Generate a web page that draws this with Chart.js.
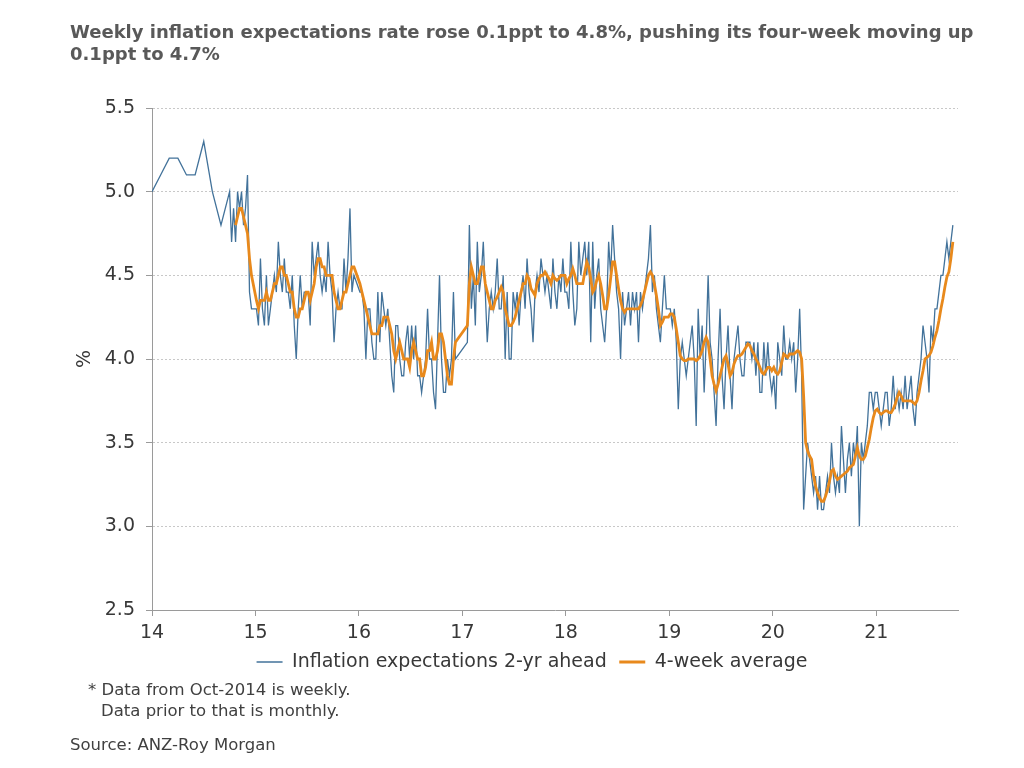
<!DOCTYPE html>
<html>
<head>
<meta charset="utf-8">
<script src="https://cdn.jsdelivr.net/npm/chart.js@4.4.1/dist/chart.umd.min.js"></script>
<style>
  body { margin: 0; background: #fff; width: 1024px; height: 768px; overflow: hidden; position: relative; font-family: "DejaVu Sans", sans-serif; }
  #wrap { position: absolute; left: 0; top: 0; width: 1024px; height: 690px; }
  .note { position: absolute; color: #404040; font-size: 16.5px; line-height: 21px; white-space: nowrap; }
</style>
</head>
<body>
<div id="wrap"><canvas id="chart" width="1024" height="690"></canvas></div>
<div class="note" style="left:88px; top:679px;">* Data from Oct-2014 is weekly.</div>
<div class="note" style="left:101px; top:700px;">Data prior to that is monthly.</div>
<div class="note" style="left:70px; top:734px;">Source: ANZ-Roy Morgan</div>
<script>
// Monthly survey, Jan-Sep 2014
const monthly2014 = [5.0, 5.1, 5.2, 5.2, 5.1, 5.1, 5.3, 5.0, 4.8];

// Weekly survey (Oct-2014 onwards), null = holiday break
const weekly2014 = [5.0, 4.7, 4.9, 4.7, 5.0, 4.9, 5.0, 4.8, 4.9, 5.1, 4.4, 4.3, null];
const weekly2015 = [4.3, 4.2, 4.6, 4.3, 4.2, 4.5, 4.2, 4.3, 4.4, 4.5,
  4.4, 4.7, 4.5, 4.4, 4.6, 4.4, 4.4, 4.3, 4.5, 4.2,
  4.0, 4.3, 4.5, 4.3, 4.4, 4.4, 4.4, 4.2, 4.7, 4.5,
  4.6, 4.7, 4.5, 4.4, 4.5, 4.4, 4.7, 4.5, 4.4, 4.1,
  4.3, 4.4, 4.3, 4.3, 4.6, 4.4, 4.6, 4.9, 4.4, 4.5,
  null, null];
const weekly2016 = [4.4, 4.4, 4.3, 4.0, 4.3, 4.3, 4.1, 4.0, 4.0, 4.4,
  4.1, 4.4, 4.3, 4.2, 4.3, 4.1, 3.9, 3.8, 4.2, 4.2,
  4.0, 3.9, 3.9, 4.1, 4.2, 4.0, 4.2, 4.0, 4.2, 3.9,
  3.9, 3.8, 3.9, 4.0, 4.3, 4.0, 4.0, 3.8, 3.7, 4.1,
  4.5, 4.0, 3.8, 3.8, 4.0, 3.9, 4.0, 4.4, 4.0, null,
  null, null];
const weekly2017 = [null, null, 4.1, 4.8, 4.3, 4.5, 4.2, 4.7, 4.4, 4.5,
  4.7, 4.4, 4.1, 4.3, 4.4, 4.3, 4.4, 4.6, 4.3, 4.3,
  4.5, 4.0, 4.4, 4.0, 4.0, 4.4, 4.3, 4.4, 4.2, 4.4,
  4.5, 4.3, 4.6, 4.4, 4.3, 4.1, 4.4, 4.5, 4.4, 4.6,
  4.5, 4.4, 4.5, 4.4, 4.3, 4.6, 4.4, 4.3, 4.5, 4.4,
  4.6, 4.4];
const weekly2018 = [4.4, 4.3, 4.7, 4.4, 4.2, 4.3, 4.7, 4.5, 4.6, 4.7,
  4.5, 4.7, 4.1, 4.7, 4.3, 4.5, 4.6, 4.3, 4.2, 4.1,
  4.3, 4.7, 4.5, 4.8, 4.6, 4.4, 4.3, 4.0, 4.4, 4.2,
  4.3, 4.4, 4.2, 4.4, 4.3, 4.4, 4.1, 4.4, 4.3, 4.4,
  4.5, 4.6, 4.8, 4.4, 4.5, 4.3, 4.2, 4.1, 4.3, 4.5,
  4.3, 4.3];
const weekly2019 = [4.3, 4.2, 4.3, 4.1, 3.7, 4.0, 4.1, 4.0, 3.9, 4.0,
  4.1, 4.2, 4.0, 3.6, 4.3, 4.0, 4.2, 3.8, 4.1, 4.5,
  4.1, 4.0, 3.8, 3.6, 4.0, 4.3, 3.9, 3.7, 4.0, 4.2,
  3.9, 3.7, 4.0, 4.1, 4.2, 4.0, 3.9, 3.9, 4.1, 4.1,
  4.1, 4.0, 4.1, 3.9, 4.1, 3.8, 3.8, 4.1, 3.9, 4.1,
  3.9, 3.8];
const weekly2020 = [3.9, 3.7, 4.1, 4.0, 3.9, 4.2, 4.0, 4.0, 4.1, 4.0,
  4.1, 3.8, 4.0, 4.3, 3.9, 3.1, 3.3, 3.5, 3.4, 3.3,
  3.2, 3.3, 3.1, 3.3, 3.1, 3.1, 3.2, 3.3, 3.2, 3.5,
  3.3, 3.2, 3.3, 3.2, 3.6, 3.4, 3.2, 3.4, 3.5, 3.3,
  3.5, 3.4, 3.6, 3.0, 3.5, 3.4, 3.5, 3.6, 3.8, 3.8,
  3.7, 3.8];
const weekly2021 = [3.8, 3.7, 3.6, 3.7, 3.8, 3.8, 3.6, 3.7, 3.9, 3.7,
  3.8, 3.7, 3.8, 3.7, 3.9, 3.7, 3.8, 3.9, 3.7, 3.6,
  3.8, 3.9, 4.0, 4.2, 4.1, 4.0, 3.8, 4.2, 4.1, 4.3,
  4.3, 4.4, 4.5, 4.5, 4.6, 4.7, 4.6, 4.7, 4.8];

// 4-week average
const avg2014 = [null, null, null, 4.8, 4.85, 4.9, 4.9, 4.85, 4.8, 4.75, 4.6, 4.5, null];
const avg2015 = [4.35, 4.3, 4.35, 4.35, 4.35, 4.4, 4.35, 4.35, 4.4, 4.45,
  4.45, 4.5, 4.55, 4.55, 4.5, 4.5, 4.45, 4.4, 4.4, 4.3,
  4.25, 4.25, 4.3, 4.3, 4.35, 4.4, 4.4, 4.35, 4.4, 4.45,
  4.55, 4.6, 4.6, 4.55, 4.55, 4.5, 4.5, 4.5, 4.5, 4.4,
  4.35, 4.3, 4.3, 4.35, 4.4, 4.4, 4.45, 4.5, 4.55, 4.55,
  null, null];
const avg2016 = [4.45, 4.4, 4.35, 4.3, 4.25, 4.2, 4.15, 4.15, 4.15, 4.15,
  4.2, 4.2, 4.25, 4.25, 4.25, 4.2, 4.15, 4.05, 4.0, 4.05,
  4.1, 4.05, 4.0, 4.0, 4.0, 3.95, 4.05, 4.1, 4.05, 4.0,
  4.0, 3.9, 3.9, 3.95, 4.05, 4.05, 4.1, 4.0, 4.0, 4.05,
  4.15, 4.15, 4.1, 4.0, 3.9, 3.85, 3.85, 4.0, 4.1, null,
  null, null];
const avg2017 = [null, null, 4.2, 4.45, 4.55, 4.5, 4.45, 4.45, 4.5, 4.55,
  4.55, 4.45, 4.4, 4.35, 4.3, 4.3, 4.35, 4.37, 4.4, 4.43,
  4.4, 4.3, 4.25, 4.2, 4.2, 4.22, 4.25, 4.3, 4.35, 4.4,
  4.45, 4.45, 4.5, 4.48, 4.42, 4.4, 4.38, 4.45, 4.48, 4.5,
  4.5, 4.52, 4.5, 4.48, 4.45, 4.5, 4.48, 4.47, 4.48, 4.5,
  4.5, 4.5];
const avg2018 = [4.45, 4.48, 4.5, 4.54, 4.5, 4.45, 4.45, 4.45, 4.45, 4.52,
  4.58, 4.55, 4.48, 4.4, 4.42, 4.47, 4.5, 4.45, 4.38, 4.3,
  4.3, 4.38, 4.48, 4.58, 4.58, 4.5, 4.42, 4.35, 4.3, 4.28,
  4.3, 4.3, 4.3, 4.3, 4.3, 4.3, 4.3, 4.32, 4.35, 4.4,
  4.45, 4.5, 4.52, 4.5, 4.45, 4.38, 4.3, 4.2, 4.22, 4.25,
  4.25, 4.25];
const avg2019 = [4.27, 4.27, 4.25, 4.18, 4.1, 4.02, 4.0, 3.99, 3.99, 4.0,
  4.0, 4.0, 4.0, 3.99, 4.0, 4.02, 4.05, 4.1, 4.13, 4.1,
  4.0, 3.9, 3.85, 3.81, 3.85, 3.9, 3.95, 4.0, 4.02, 3.97,
  3.9, 3.92, 3.97, 4.0, 4.02, 4.02, 4.03, 4.05, 4.07, 4.09,
  4.08, 4.05, 4.03, 4.0, 3.98, 3.95, 3.92, 3.91, 3.93, 3.95,
  3.95, 3.93];
const avg2020 = [3.95, 3.92, 3.91, 3.93, 3.98, 4.03, 4.02, 4.01, 4.03, 4.03,
  4.03, 4.04, 4.05, 4.04, 4.0, 3.78, 3.5, 3.45, 3.42, 3.4,
  3.3, 3.24, 3.2, 3.17, 3.15, 3.15, 3.18, 3.22, 3.27, 3.33,
  3.34, 3.3, 3.28, 3.29, 3.3, 3.31, 3.32, 3.33, 3.35, 3.36,
  3.37, 3.42, 3.47, 3.42, 3.4, 3.4, 3.42, 3.47, 3.52, 3.59,
  3.65, 3.69];
const avg2021 = [3.7, 3.68, 3.67, 3.68, 3.69, 3.69, 3.68, 3.68, 3.7, 3.73,
  3.77, 3.8, 3.78, 3.75, 3.75, 3.75, 3.75, 3.75, 3.74, 3.73,
  3.75, 3.8, 3.87, 3.93, 4.0, 4.01, 4.02, 4.04, 4.08, 4.13,
  4.17, 4.23, 4.3, 4.36, 4.43, 4.49, 4.52, 4.6, 4.7];

const yearTicks = [14, 15, 16, 17, 18, 19, 20, 21];
const yearLabels = ['14', '15', '16', '17', '18', '19', '20', '21'];
const titleLines = [
  'Weekly inflation expectations rate rose 0.1ppt to 4.8%, pushing its four-week moving up',
  '0.1ppt to 4.7%'
];

const BLUE = '#42729a';
const ORANGE = '#e8891c';
const TEXT = '#383838';

// x is the year (14 = Jan-2014); weeks step 1/52 year
function weekly(start, values, offset) {
  return values.map((v, i) => ({ x: start + (i + offset) / 52, y: v }));
}

const weeklyYears = [
  [15, weekly2015, avg2015], [16, weekly2016, avg2016], [17, weekly2017, avg2017],
  [18, weekly2018, avg2018], [19, weekly2019, avg2019], [20, weekly2020, avg2020],
  [21, weekly2021, avg2021]
];

let rawPoints = monthly2014.map((v, m) => ({ x: 14 + m / 12, y: v }));
rawPoints = rawPoints.concat(weekly(14.75, weekly2014, 0));
let avgPoints = weekly(14.75, avg2014, 0);
weeklyYears.forEach(([yr, w, a]) => {
  rawPoints = rawPoints.concat(weekly(yr, w, 0.5));
  avgPoints = avgPoints.concat(weekly(yr, a, 0.5));
});

const font = (size, weight, lineHeight) => ({
  family: '"DejaVu Sans", sans-serif', size: size, weight: weight || 'normal', lineHeight: lineHeight || 1.2
});

new Chart(document.getElementById('chart'), {
  type: 'line',
  data: {
    datasets: [
      {
        label: 'Inflation expectations 2-yr ahead',
        data: rawPoints,
        borderColor: BLUE,
        backgroundColor: BLUE,
        borderWidth: 1.3,
        pointRadius: 0,
        pointStyle: 'line',
        spanGaps: true,
        tension: 0,
        order: 2
      },
      {
        label: '4-week average',
        data: avgPoints,
        borderColor: ORANGE,
        backgroundColor: ORANGE,
        borderWidth: 2.8,
        pointRadius: 0,
        pointStyle: 'line',
        spanGaps: true,
        tension: 0,
        order: 1
      }
    ]
  },
  options: {
    responsive: false,
    animation: false,
    layout: { padding: { left: 70, right: 30, top: 10, bottom: 8.5 } },
    scales: {
      x: {
        type: 'linear',
        min: 14,
        max: 21.79,
        afterBuildTicks: (scale) => { scale.ticks = yearTicks.map(v => ({ value: v })); },
        afterFit: (scale) => { scale.height = 30; },
        ticks: {
          callback: (v) => yearLabels[yearTicks.indexOf(v)],
          font: font(19),
          color: TEXT,
          padding: 6,
          maxRotation: 0
        },
        grid: { drawOnChartArea: false, drawTicks: true, tickLength: 6, color: '#9a9a9a' },
        border: { color: '#9a9a9a', width: 1 }
      },
      y: {
        min: 2.5,
        max: 5.5,
        afterFit: (scale) => { scale.width = 82; },
        ticks: {
          stepSize: 0.5,
          callback: (v) => v.toFixed(1),
          font: font(19),
          color: TEXT,
          padding: 11
        },
        grid: { color: '#c8c8c8', tickLength: 6, tickColor: '#9a9a9a' },
        border: { color: '#9a9a9a', width: 1, dash: [2, 2] },
        title: { display: true, text: '%', font: font(19), color: TEXT, padding: { top: 4, bottom: 0 } }
      },
      yRight: {
        position: 'right',
        min: 0,
        max: 1,
        grid: { display: false },
        border: { display: false },
        ticks: { display: false },
        afterFit: (scale) => { scale.width = 36; }
      }
    },
    plugins: {
      title: {
        display: true,
        text: titleLines,
        align: 'start',
        color: '#595959',
        font: font(18, 'bold', 22 / 18),
        padding: { top: 12, bottom: 42 }
      },
      legend: {
        position: 'bottom',
        labels: {
          usePointStyle: true,
          pointStyleWidth: 26,
          font: font(19),
          color: TEXT,
          padding: 12.5,
          sort: (a, b) => a.datasetIndex - b.datasetIndex
        }
      },
      tooltip: { enabled: false }
    }
  }
});
</script>
</body>
</html>
